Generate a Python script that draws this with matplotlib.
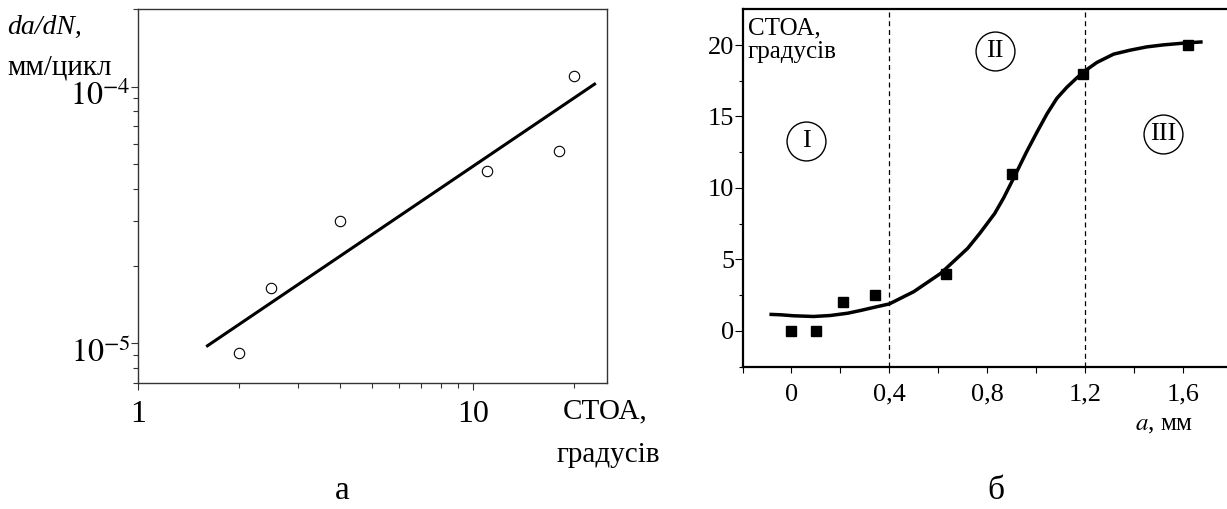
import numpy as np
import matplotlib
matplotlib.use("Agg")
import matplotlib.pyplot as plt
import matplotlib.transforms as mtransforms
from matplotlib.ticker import FixedLocator, NullFormatter, LogLocator

plt.rcParams['font.family'] = ['Liberation Serif', 'DejaVu Serif']
plt.rcParams['mathtext.fontset'] = 'stix'

# (a) crack growth rate vs CTOA, log-log
ctoa = [2.0, 2.5, 4.0, 11.0, 18.0, 20.0]
dadn = [9.2e-6, 1.64e-5, 3.0e-5, 4.7e-5, 5.6e-5, 1.1e-4]
fit_ctoa = [1.6, 23.2]
fit_dadn = [9.7e-6, 1.03e-4]

# (b) CTOA vs crack length
crack_a = [0.0, 0.1, 0.21, 0.34, 0.63, 0.90, 1.19, 1.62]
ctoa_b = [0.0, 0.0, 2.0, 2.5, 4.0, 11.0, 18.0, 20.0]
curve_a = [-0.09, -0.045, 0.009, 0.09, 0.159, 0.23, 0.282, 0.34, 0.40, 0.50,
           0.61, 0.72, 0.771, 0.83, 0.867, 0.91, 0.96, 1.003, 1.044, 1.084,
           1.125, 1.166, 1.20, 1.248, 1.316, 1.384, 1.452, 1.52, 1.615, 1.68]
curve_ctoa = [1.15, 1.12, 1.05, 1.0, 1.07, 1.23, 1.42, 1.65, 1.88, 2.74,
              4.02, 5.77, 6.85, 8.2, 9.3, 10.76, 12.5, 13.9, 15.18, 16.26,
              17.04, 17.7, 18.2, 18.78, 19.36, 19.64, 19.87, 20.01, 20.15, 20.22]
zone_bounds = [0.4, 1.2]
zone_names = ['I', 'II', 'III']
zone_pos = [(0.06, 13.3), (0.83, 19.6), (1.52, 13.75)]

W, H = 1227, 509
fig = plt.figure(figsize=(W / 100, H / 100), dpi=100)


def box(l, t, r, b):
    return [l / W, 1 - b / H, (r - l) / W, (b - t) / H]


def ftext(x, y, s, **kw):
    fig.text(x / W, 1 - y / H, s, **kw)


# ---- left panel ----
ax1 = fig.add_axes(box(137.7, 9.3, 606.7, 383))
ax1.set_xscale('log')
ax1.set_yscale('log')
ax1.plot(fit_ctoa, fit_dadn, color='black', lw=2.2, solid_capstyle='butt')
ax1.plot(ctoa, dadn, 'o', ms=7.5, mfc='white', mec='black', mew=0.8)
ax1.set_xlim(1, 25)
ax1.set_ylim(7e-6, 2e-4)
for s in ax1.spines.values():
    s.set_linewidth(1.0)
    s.set_color('#333333')
ax1.xaxis.set_major_locator(FixedLocator([1, 10]))
ax1.xaxis.set_major_formatter(plt.FixedFormatter(['1', '10']))
ax1.xaxis.set_minor_locator(LogLocator(base=10, subs=np.arange(2, 10)))
ax1.xaxis.set_minor_formatter(NullFormatter())
ax1.yaxis.set_major_locator(FixedLocator([1e-5, 1e-4]))
ax1.yaxis.set_major_formatter(plt.FixedFormatter([r'$10^{-5}$', r'$10^{-4}$']))
ax1.yaxis.set_minor_locator(LogLocator(base=10, subs=np.arange(2, 10)))
ax1.yaxis.set_minor_formatter(NullFormatter())
ax1.tick_params(axis='both', which='both', direction='out', color='#333333', width=0.8)
ax1.tick_params(axis='both', which='major', length=5)
ax1.tick_params(axis='both', which='minor', length=3.5)
ax1.tick_params(axis='x', which='major', labelsize=23, pad=7)
ax1.tick_params(axis='y', which='major', labelsize=23, pad=0)
# exponent sits level with the tick, the "10" hangs below it
shift = mtransforms.ScaledTranslation(0, -5 / 72, fig.dpi_scale_trans)
for lbl in ax1.get_yticklabels():
    lbl.set_transform(lbl.get_transform() + shift)

ftext(7, 27, 'da/dN,', fontsize=20, style='italic', va='center', ha='left')
ftext(7, 68, 'мм/цикл', fontsize=21, va='center', ha='left')
ftext(563, 411, 'СТОА,', fontsize=21, va='center', ha='left')
ftext(660, 455, 'градусів', fontsize=21, va='center', ha='right')
ftext(342, 491, 'а', fontsize=24, va='center', ha='center')

# ---- right panel ----
ax2 = fig.add_axes(box(742.5, 9.3, 1232, 366.5))
for xb in zone_bounds:
    ax2.axvline(xb, color='black', lw=0.9, ls=(0, (4, 3)))
ax2.plot(curve_a, curve_ctoa, color='black', lw=2.5, solid_capstyle='butt',
         solid_joinstyle='round')
ax2.plot(crack_a, ctoa_b, 's', ms=7, color='black')
for name, (zx, zy) in zip(zone_names, zone_pos):
    ax2.plot(zx, zy, 'o', ms=28, mfc='none', mec='black', mew=1.0)
    ax2.text(zx, zy, name, fontsize=19, ha='center', va='center')
ax2.set_xlim(-0.2, 1.8)
ax2.set_ylim(-2.5, 22.5)
ax2.spines['right'].set_visible(False)
for s in ['left', 'bottom', 'top']:
    ax2.spines[s].set_linewidth(1.6)
ax2.set_xticks([0, 0.4, 0.8, 1.2, 1.6])
ax2.set_xticklabels(['0', '0,4', '0,8', '1,2', '1,6'])
ax2.set_xticks([-0.2, 0.2, 0.6, 1.0, 1.4], minor=True)
ax2.set_yticks([0, 5, 10, 15, 20])
ax2.set_yticks([-2.5, 2.5, 7.5, 12.5, 17.5], minor=True)
ax2.tick_params(axis='both', which='both', direction='out', width=0.8)
ax2.tick_params(axis='x', which='both', length=4.5)
ax2.tick_params(axis='y', which='major', length=6)
ax2.tick_params(axis='y', which='minor', length=3)
ax2.tick_params(axis='x', which='major', labelsize=19, pad=8)
ax2.tick_params(axis='y', which='major', labelsize=19, pad=0)

ftext(748, 28, 'СТОА,', fontsize=18, va='center', ha='left')
ftext(748, 52, 'градусів', fontsize=18, va='center', ha='left')
ftext(1135, 425, r'$\mathit{a}$, мм', fontsize=18, va='center', ha='left')
ftext(996, 491, 'б', fontsize=24, va='center', ha='center')

fig.savefig('out.png', dpi=100)
